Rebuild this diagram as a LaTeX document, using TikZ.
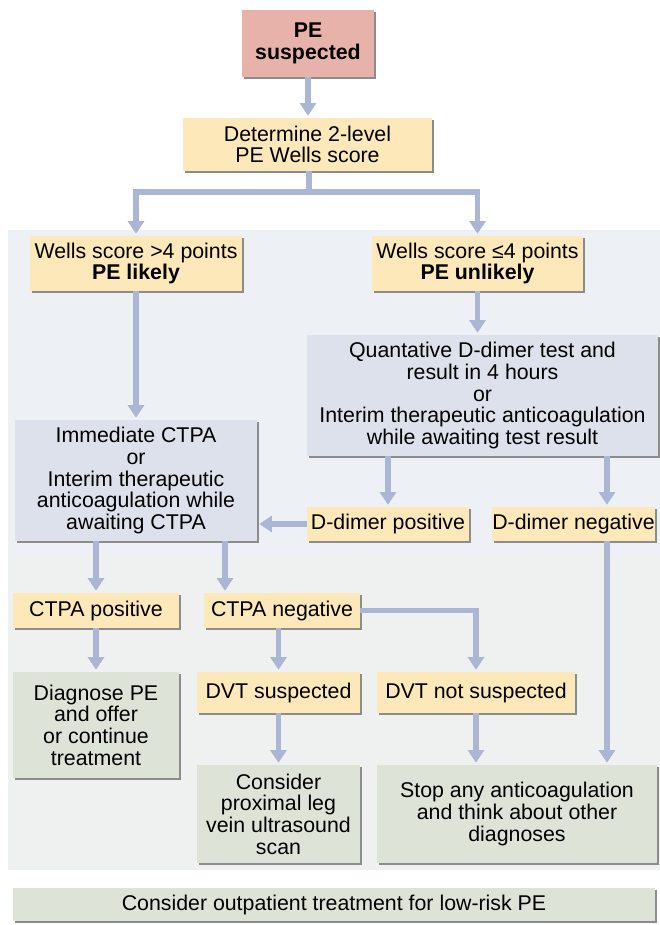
\documentclass[tikz,border=0pt]{standalone}
\usepackage{fontspec}
\setmainfont{Liberation Sans}
\usetikzlibrary{arrows.meta,shadows}
\definecolor{salmon}{HTML}{E6B2A9}
\definecolor{yel}{HTML}{FCE8B8}
\definecolor{bluegr}{HTML}{DCE1EB}
\definecolor{greengr}{HTML}{DEE3D8}
\definecolor{arrowc}{HTML}{AAB6D4}
\definecolor{shadowc}{HTML}{8C8C8C}
\definecolor{bandone}{HTML}{EDF0F5}
\definecolor{bandtwo}{HTML}{EEF1EF}
\begin{document}
\begin{tikzpicture}[x=0.75pt,y=-0.75pt,
  font=\fontsize{16pt}{16.2pt}\selectfont,
  bx/.style={inner sep=0pt, align=center,
    drop shadow={shadow xshift=1.6pt, shadow yshift=-1.6pt, fill=shadowc, opacity=1}},
  sz/.style 2 args={minimum width=#1*0.75pt, minimum height=#2*0.75pt},
  rbox/.style={bx, fill=salmon, font=\fontsize{16pt}{16.2pt}\selectfont\bfseries},
  ybox/.style={bx, fill=yel},
  bbox/.style={bx, fill=bluegr},
  gbox/.style={bx, fill=greengr},
  arr/.style={draw=arrowc, line width=4.2pt, -{Triangle[width=12pt,length=9.5pt]}, shorten >=1.5pt}
]
\useasboundingbox (0,0) rectangle (660,925);
\fill[white] (0,0) rectangle (660,925);
\fill[bandone] (8,230) rectangle (660,557);
\fill[bandtwo] (8,557) rectangle (660,870);

\node[rbox, sz={132}{67}] (pe) at (308,43.5) {PE\\suspected};
\node[ybox, sz={249}{53}] (det) at (307.5,144.5) {Determine 2-level\\PE Wells score};
\node[ybox, sz={212}{55}] (w1) at (136,263.5) {Wells score >4 points\\\textbf{PE likely}};
\node[ybox, sz={211}{55}] (w2) at (477.5,263.5) {Wells score ≤4 points\\\textbf{PE unlikely}};
\node[bbox, sz={242}{121}] (imm) at (136,480.5) {Immediate CTPA\\or\\Interim therapeutic\\anticoagulation while\\awaiting CTPA};
\node[bbox, sz={351}{121}] (quant) at (482.5,395.5) {Quantative D-dimer test and\\result in 4 hours\\or\\Interim therapeutic anticoagulation\\while awaiting test result};
\node[ybox, sz={162}{34}] (dpos) at (388,524) {D-dimer positive};
\node[ybox, sz={163}{34}] (dneg) at (573.5,524) {D-dimer negative};
\node[ybox, sz={166}{35}] (ctpos) at (96,610.5) {CTPA positive};
\node[ybox, sz={156}{35}] (ctneg) at (282,610.5) {CTPA negative};
\node[gbox, sz={166}{106}] (diag) at (96,725) {Diagnose PE\\and offer\\or continue\\treatment};
\node[ybox, sz={163}{41}] (dvts) at (278.5,692.5) {DVT suspected};
\node[ybox, sz={198}{41}] (dvtn) at (476,692.5) {DVT not suspected};
\node[gbox, sz={163}{98}] (cons) at (278.5,814) {Consider\\proximal leg\\vein ultrasound\\scan};
\node[gbox, sz={280}{98}] (stop) at (517,814) {Stop any anticoagulation\\and think about other\\diagnoses};
\node[gbox, sz={642}{33}] (out) at (334,904.5) {Consider outpatient treatment for low-risk PE};

\coordinate (sp) at (309,192);
\coordinate (dnx) at (607,0);
\coordinate (cnx) at (225,0);

\draw[arr] (pe.south) -- (pe.south |- det.north);
\draw[arr] (det.south -| sp) -- (sp) -| (w1.north);
\draw[arr] (sp) -| (w2.north);
\draw[arr] (w1.south) -- (w1.south |- imm.north);
\draw[arr] (w2.south) -- (w2.south |- quant.north);
\draw[arr] (dpos.north |- quant.south) -- (dpos.north);
\draw[arr] (dnx |- quant.south) -- (dnx |- dneg.north);
\draw[arr] (dpos.west) -- (dpos.west -| imm.east);
\draw[arr] (ctpos.north |- imm.south) -- (ctpos.north);
\draw[arr] (cnx |- imm.south) -- (cnx |- ctneg.north);
\draw[arr] (ctneg.east) -| (dvtn.north);
\draw[arr] (ctpos.south) -- (diag.north -| ctpos.south);
\draw[arr] (ctneg.south -| dvts.north) -- (dvts.north);
\draw[arr] (dvts.south) -- (cons.north -| dvts.south);
\draw[arr] (dvtn.south) -- (dvtn.south |- stop.north);
\draw[arr] (dnx |- dneg.south) -- (dnx |- stop.north);
\end{tikzpicture}
\end{document}
